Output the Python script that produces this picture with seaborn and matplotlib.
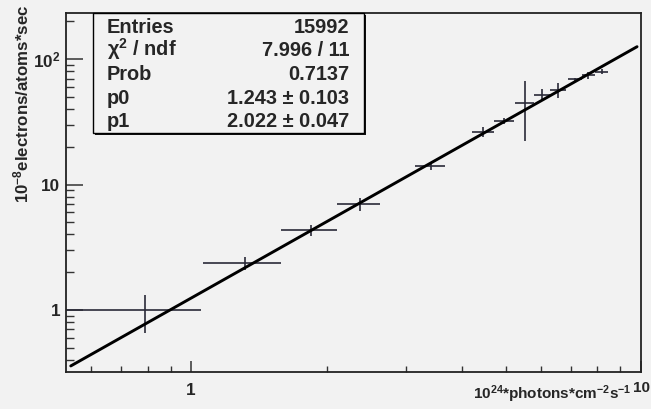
import numpy as np
import matplotlib
matplotlib.use("Agg")
import matplotlib.pyplot as plt
import matplotlib.ticker as mticker
from matplotlib.patches import Rectangle
from matplotlib.transforms import ScaledTranslation
import seaborn as sns

# measured points (bin centres, value, errors)
flux = [0.79, 1.32, 1.845, 2.37, 3.41, 4.46, 4.97, 5.52, 6.03, 6.55, 7.13, 7.64, 8.18]
rate = [0.99, 2.37, 4.34, 6.99, 14.1, 26.3, 32.1, 44.4, 51.7, 56.6, 69.3, 74.6, 79.6]
flux_err = [0.26] * 13
rate_err = [0.33, 0.29, 0.43, 0.88, 1.1, 2.3, 1.5, 22.0, 5.8, 7.4, 2.0, 5.0, 3.0]

# fit result shown in the stats box
p0 = 1.243
p1 = 2.022
fit_range = [0.54, 9.8]

stat_names = ["Entries", r"$\chi^{2}$ / ndf", "Prob", "p0", "p1"]
stat_values = ["15992", "7.996 / 11", "0.7137", "1.243 ± 0.103", "2.022 ± 0.047"]

bg = "#f2f2f2"
sns.set_style("ticks")
plt.rcParams["font.family"] = ["Liberation Sans", "DejaVu Sans"]
plt.rcParams["font.weight"] = "bold"
plt.rcParams["mathtext.fontset"] = "custom"
plt.rcParams["mathtext.rm"] = "Liberation Sans:bold"
plt.rcParams["mathtext.bf"] = "Liberation Sans:bold"
plt.rcParams["mathtext.it"] = "Liberation Sans:bold"
plt.rcParams["mathtext.default"] = "bf"

fig = plt.figure(figsize=(6.51, 4.09), dpi=100, facecolor=bg)
ax = fig.add_axes([66 / 651, 37 / 409, 575 / 651, 359 / 409], facecolor=bg)
ax.set_xscale("log")
ax.set_yscale("log")

ax.errorbar(flux, rate, xerr=flux_err, yerr=rate_err, fmt="none",
            ecolor="#2a2a38", elinewidth=1.2, capsize=0)

fit_x = np.array(fit_range)
fit_y = p0 * fit_x ** p1
sns.lineplot(x=fit_x, y=fit_y, ax=ax, color="black", linewidth=2.1)

ax.set_xlim(0.527, 10)
ax.set_ylim(0.32, 233)

ax.xaxis.set_major_locator(mticker.FixedLocator([1, 10]))
ax.xaxis.set_major_formatter(mticker.FixedFormatter(["1", "10"]))
ax.xaxis.set_minor_locator(mticker.LogLocator(subs=np.arange(2, 10)))
ax.xaxis.set_minor_formatter(mticker.NullFormatter())
ax.yaxis.set_major_locator(mticker.FixedLocator([1, 10, 100]))
ax.yaxis.set_major_formatter(mticker.FixedFormatter(["1", "10", r"$10^{2}$"]))
ax.yaxis.set_minor_locator(mticker.LogLocator(subs=np.arange(2, 10)))
ax.yaxis.set_minor_formatter(mticker.NullFormatter())

ax.tick_params(axis="both", which="both", direction="in", color="#333333",
               top=False, right=False, labelsize=12.3)
ax.tick_params(axis="y", which="major", length=12, width=1.1, pad=4)
ax.tick_params(axis="y", which="minor", length=6, width=1.0)
ax.tick_params(axis="x", which="major", length=8, width=1.1, pad=8)
ax.tick_params(axis="x", which="minor", length=4.5, width=1.0)
for s in ax.spines.values():
    s.set_linewidth(1.3)
    s.set_color("#222222")

# the "10" at the right end sits a little higher, slightly smaller
fig.canvas.draw()
last = ax.get_xticklabels()[-1]
last.set_fontsize(11)
last.set_transform(last.get_transform() + ScaledTranslation(0, 2.5 / 100, fig.dpi_scale_trans))

# axis titles, ROOT style (aligned to axis end)
fig.text(632 / 651, (409 - 399) / 409,
         r"$10^{24}$*photons*cm$^{-2}$s$^{-1}$",
         ha="right", va="baseline", fontsize=11, fontweight="bold")
fig.text(21 / 651, (409 - 5) / 409, r"$10^{-8}$electrons/atoms*sec",
         rotation=90, ha="center", va="top", fontsize=12.2, fontweight="bold")

# stats box with shadow
bx0, bx1 = 93 / 651, 364 / 651
by0, by1 = (409 - 133) / 409, (409 - 13) / 409
fig.patches.append(Rectangle((bx0 + 2 / 651, by0 - 2 / 409), bx1 - bx0, by1 - by0,
                             transform=fig.transFigure, facecolor="#111111",
                             edgecolor="none", zorder=5))
fig.patches.append(Rectangle((bx0, by0), bx1 - bx0, by1 - by0,
                             transform=fig.transFigure, facecolor=bg,
                             edgecolor="black", linewidth=1.0, zorder=6))
baselines = [33, 56, 80, 104, 127]
for name, val, yb in zip(stat_names, stat_values, baselines):
    fig.text(107 / 651, (409 - yb) / 409, name, ha="left", va="baseline",
             fontsize=14.4, fontweight="bold", zorder=7)
    fig.text(349 / 651, (409 - yb) / 409, val, ha="right", va="baseline",
             fontsize=14.4, fontweight="bold", zorder=7)

fig.savefig("out.png", dpi=100, facecolor=bg)
